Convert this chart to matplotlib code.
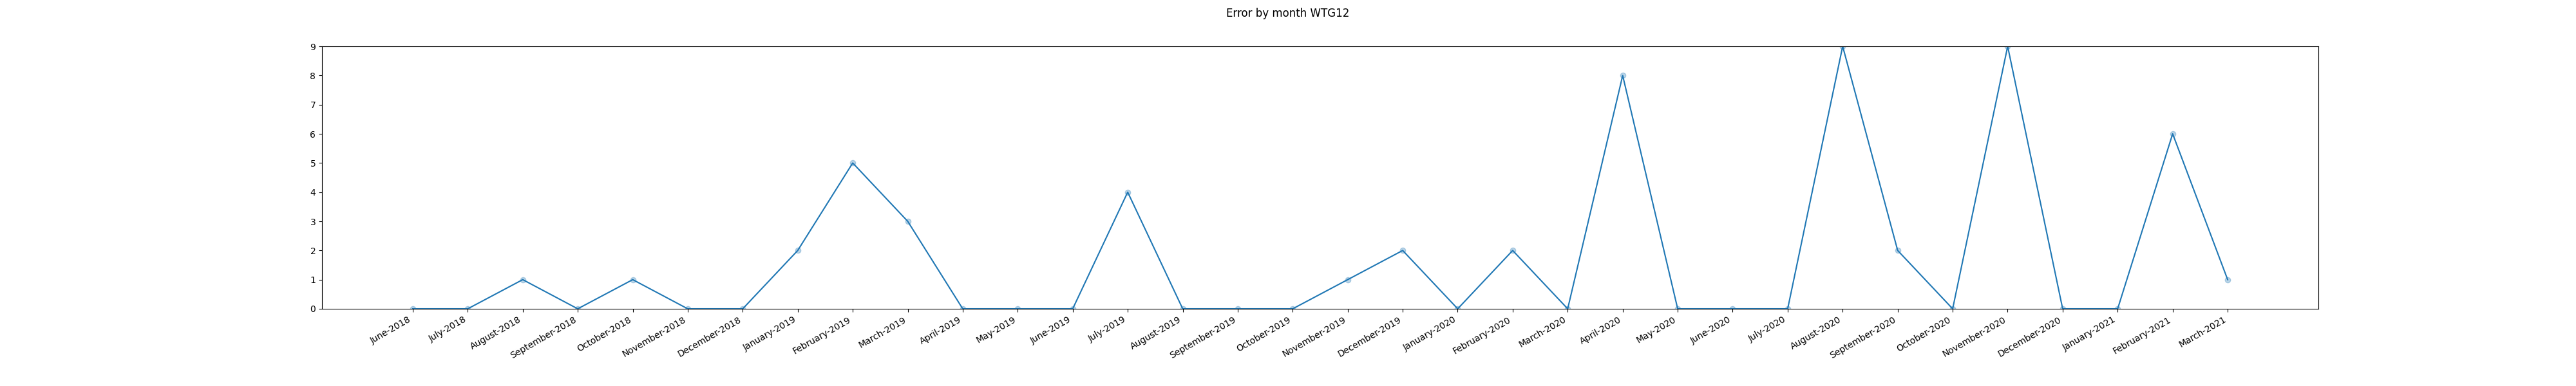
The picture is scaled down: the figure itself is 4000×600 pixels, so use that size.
import matplotlib
matplotlib.use("Agg")
import matplotlib.pyplot as plt

months = ["June-2018", "July-2018", "August-2018", "September-2018", "October-2018",
          "November-2018", "December-2018", "January-2019", "February-2019", "March-2019",
          "April-2019", "May-2019", "June-2019", "July-2019", "August-2019",
          "September-2019", "October-2019", "November-2019", "December-2019",
          "January-2020", "February-2020", "March-2020", "April-2020", "May-2020",
          "June-2020", "July-2020", "August-2020", "September-2020", "October-2020",
          "November-2020", "December-2020", "January-2021", "February-2021", "March-2021"]
errors = [0, 0, 1, 0, 1, 0, 0, 2, 5, 3, 0, 0, 0, 4, 0, 0, 0, 1, 2, 0, 2, 0, 8, 0,
          0, 0, 9, 2, 0, 9, 0, 0, 6, 1]

fig, ax = plt.subplots(figsize=(40, 6), dpi=100)
ax.plot(months, errors, color="C0")
ax.scatter(months, errors, color="C0", alpha=0.3)
ax.set_ylim(0, 9)
fig.suptitle("Error by month WTG12")
fig.autofmt_xdate()
fig.savefig("out.png")
